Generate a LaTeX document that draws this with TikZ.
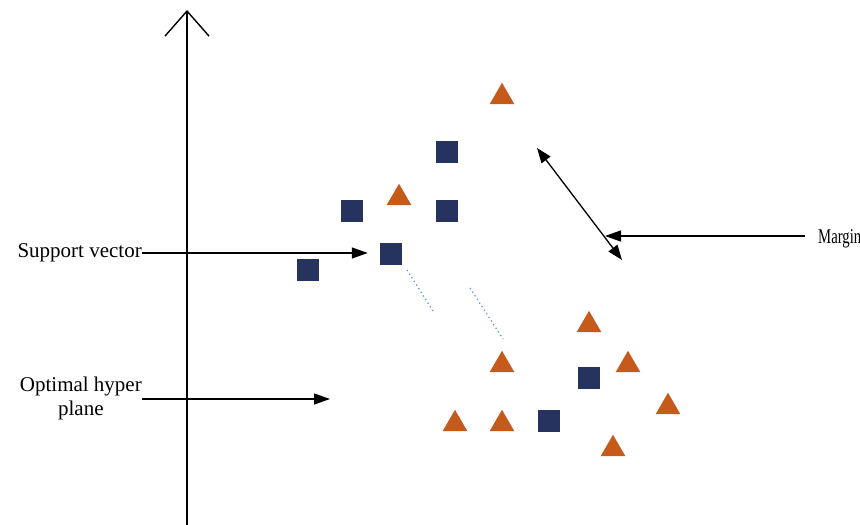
\documentclass[tikz,border=0pt]{standalone}
\usepackage{fontspec}
\setmainfont{Liberation Serif}
\usetikzlibrary{arrows.meta, shapes.geometric, positioning}

\definecolor{navy}{HTML}{26335F}
\definecolor{rust}{HTML}{C55A1B}
\definecolor{dotblue}{HTML}{5B9BD5}

\begin{document}
\begin{tikzpicture}[x=1pt,y=-1pt,
        sq/.style={rectangle,fill=navy,minimum size=22pt,inner sep=0pt},
        tri/.style={regular polygon,regular polygon sides=3,fill=rust,minimum size=28.5pt,inner sep=0pt},
        lbl/.style={inner sep=0pt,font=\fontsize{21}{24}\selectfont},
        pointer/.style={line width=1.3pt,-{Triangle[length=16pt,width=11pt]}},
        gap line/.style={dotblue,line width=1.3pt,dash pattern=on 1.3pt off 3pt}]
        \useasboundingbox (0,0) rectangle (860,525);

        % axis
        \coordinate (base) at (187,525);
        \coordinate (top) at (187,10);
        \draw[line width=1.4pt,-{Straight Barb[length=25pt,width=44pt]}] (base) -- (top);

        % samples
        \foreach \n/\x/\y in {s1/447/152, s2/352/211, s3/447/211, s4/391/254,
                s5/308/270, s6/589/378, s7/549/421}
        \node[sq] (\n) at (\x,\y) {};
        \foreach \n/\x/\y in {t1/502/97, t2/399/198, t3/589/325, t4/502/365, t5/628/365,
                t6/668/407, t7/455/424, t8/502/424, t9/613/449}
        \node[tri] (\n) at (\x,\y) {};

        % hyper plane
        \coordinate (h1a) at (407,270);
        \coordinate (h1b) at (433,311);
        \coordinate (h2a) at (470,288);
        \coordinate (h2b) at (503,339);
        \draw[gap line] (h1a) -- (h1b);
        \draw[gap line] (h2a) -- (h2b);

        % labels
        \node[lbl,anchor=east] (svlab) at (142,253) {Support vector};
        \draw[pointer,shorten >=12pt] (svlab.east) -- (svlab.east -| s4.west);

        \node[lbl,anchor=east,align=center] (optlab) at (142,398) {Optimal hyper\\plane};
        \coordinate (hpend) at (330,399);
        \draw[pointer] (optlab.east |- hpend) -- (hpend);

        \node[lbl,anchor=west] (mlab) at (818,239) {\scalebox{0.7}[1]{Margin}};
        \coordinate (mtip) at (605,236);
        \draw[pointer,shorten <=13pt] (mlab.west |- mtip) -- (mtip);

        \coordinate (m1) at (537,148);
        \coordinate (m2) at (622,260);
        \draw[line width=1.3pt,{Triangle[length=15pt,width=11pt]}-{Triangle[length=15pt,width=11pt]}] (m1) -- (m2);
\end{tikzpicture}
\end{document}
